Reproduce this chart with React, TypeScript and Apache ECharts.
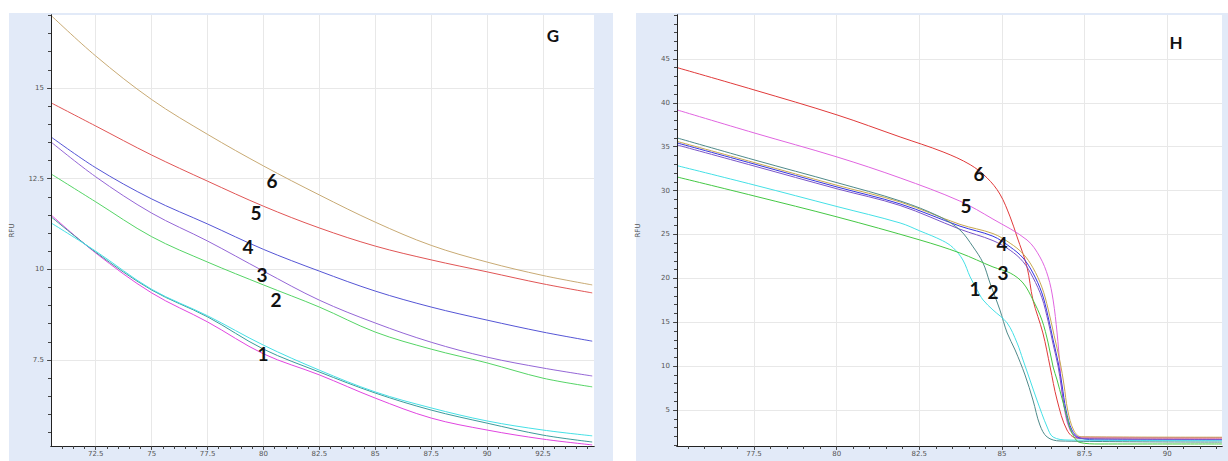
import React, { useEffect, useRef } from 'react';
import * as echarts from 'echarts';

// ---------- Panel G (left) ----------
const leftTemps = [70.5, 72.5, 75, 77.5, 80, 82.5, 85, 87.5, 90, 92.5, 94.7];
const g6Tan = [17.0, 15.88, 14.68, 13.72, 12.85, 12.05, 11.3, 10.66, 10.2, 9.83, 9.57];
const g5Red = [14.59, 13.95, 13.15, 12.43, 11.74, 11.14, 10.64, 10.26, 9.93, 9.6, 9.35];
const g4Blue = [13.65, 12.8, 11.94, 11.25, 10.55, 9.95, 9.4, 8.96, 8.6, 8.27, 8.02];
const g3Purple = [13.51, 12.55, 11.55, 10.78, 9.95, 9.15, 8.52, 7.99, 7.58, 7.28, 7.06];
const g2Green = [12.63, 11.86, 10.9, 10.2, 9.57, 8.96, 8.27, 7.8, 7.42, 7.0, 6.76];
const g1Magenta = [11.5, 10.45, 9.35, 8.55, 7.67, 7.09, 6.45, 5.9, 5.57, 5.32, 5.16];
const g1Teal = [11.45, 10.47, 9.43, 8.69, 7.8, 7.17, 6.59, 6.12, 5.76, 5.43, 5.24];
const g1Cyan = [11.28, 10.5, 9.45, 8.72, 7.91, 7.22, 6.62, 6.18, 5.82, 5.57, 5.41];

const leftXTicks = [72.5, 75, 77.5, 80, 82.5, 85, 87.5, 90, 92.5];
const leftYTicks = [7.5, 10, 12.5, 15];

// ---------- Panel H (right) ----------
const h6Red = [[75.17, 44.01], [77.5, 41.47], [80.01, 38.62], [81.92, 36.11], [83.22, 34.4], [84.04, 32.95], [84.55, 31.45], [84.94, 29.6], [85.25, 27.0], [85.46, 24.72], [85.76, 21.3], [85.94, 17.54], [86.24, 13.78], [86.46, 9.9], [86.67, 6.14], [86.97, 2.72], [87.27, 1.81], [91.66, 1.81]];
const h5Magenta = [[75.17, 39.19], [77.5, 36.57], [80.01, 33.83], [81.92, 31.44], [83.73, 28.8], [84.73, 26.75], [85.76, 24.37], [86.15, 22.44], [86.4, 20.16], [86.55, 17.54], [86.67, 13.78], [86.76, 9.9], [86.85, 6.14], [87.06, 2.72], [87.36, 1.92], [91.66, 1.85]];
const h4Tan = [[75.17, 35.6], [77.5, 33.2], [80.01, 30.6], [81.92, 28.7], [83.73, 26.15], [84.73, 25.1], [85.25, 24.0], [85.64, 22.8], [85.94, 21.2], [86.21, 19.0], [86.4, 16.5], [86.58, 13.5], [86.76, 10.5], [86.88, 7.85], [86.99, 5.0], [87.17, 2.72], [87.4, 1.95], [91.66, 1.9]];
const h4Blue = [[75.17, 35.43], [77.5, 33.03], [80.01, 30.41], [81.92, 28.48], [83.73, 25.95], [84.73, 24.8], [85.25, 23.58], [85.64, 22.32], [85.94, 20.61], [86.21, 18.33], [86.4, 15.6], [86.55, 12.98], [86.7, 10.47], [86.82, 7.85], [86.94, 5.0], [87.12, 2.72], [87.36, 1.81], [87.97, 1.6], [91.66, 1.6]];
const h4Purple = [[75.17, 35.2], [77.5, 32.8], [80.01, 30.2], [81.92, 28.3], [83.73, 25.6], [84.73, 24.3], [85.25, 23.2], [85.64, 21.9], [85.94, 20.1], [86.21, 17.8], [86.4, 15.1], [86.55, 12.5], [86.7, 10.0], [86.8, 7.6], [86.92, 4.8], [87.1, 2.6], [87.36, 1.75], [91.66, 1.65]];
const h2Gray = [[75.17, 36.0], [77.5, 33.5], [80.01, 30.9], [81.92, 28.82], [83.13, 27.0], [83.73, 25.51], [84.13, 23.58], [84.43, 21.75], [84.64, 19.47], [84.94, 16.4], [85.16, 13.78], [85.4, 11.84], [85.7, 8.99], [85.94, 6.14], [86.15, 3.29], [86.37, 1.92], [86.76, 1.47], [91.66, 1.35]];
const h1Cyan = [[75.17, 32.84], [77.5, 30.64], [80.01, 28.18], [81.92, 26.31], [82.52, 25.4], [83.2, 24.3], [83.52, 23.5], [83.82, 22.09], [84.04, 20.16], [84.25, 18.68], [84.43, 17.54], [84.73, 16.4], [85.16, 14.91], [85.46, 12.64], [85.64, 10.7], [85.85, 8.42], [86.06, 6.14], [86.37, 3.06], [86.55, 1.92], [87.0, 1.58], [91.66, 1.5]];
const h3Green = [[75.17, 31.55], [77.5, 29.39], [80.01, 27.0], [82.52, 24.37], [83.73, 22.89], [84.73, 21.3], [85.25, 20.61], [85.64, 19.47], [85.94, 17.54], [86.21, 15.26], [86.4, 12.64], [86.55, 9.9], [86.67, 8.42], [86.97, 4.2], [87.12, 2.38], [87.36, 1.3], [87.97, 1.13], [91.66, 1.13]];

const rightXTicks = [77.5, 80, 82.5, 85, 87.5, 90];
const rightYTicks = [5, 10, 15, 20, 25, 30, 35, 40, 45];

const leftLabels = [
  { t: '6', x: 272, y: 180 }, { t: '5', x: 256, y: 212 }, { t: '4', x: 248, y: 246 },
  { t: '3', x: 262, y: 274 }, { t: '2', x: 276, y: 299 }, { t: '1', x: 263, y: 353 },
];
const rightLabels = [
  { t: '6', x: 979, y: 173 }, { t: '5', x: 966, y: 205 }, { t: '4', x: 1002, y: 243 },
  { t: '3', x: 1003, y: 272 }, { t: '1', x: 975, y: 288 }, { t: '2', x: 993, y: 291 },
];

function steps(a: number, b: number, s: number) {
  const out: number[] = [];
  for (let v = a; v <= b + 1e-9; v += s) out.push(Math.round(v * 100) / 100);
  return out;
}

const PANEL_BG = '#e2eaf8';
const GRID_LINE = '#e8e8e8';
const AXIS_COLOR = '#222';
const LABEL_COLOR = '#555';

function mainAxis(grid: number, min: number, max: number, ticks: number[], isY: boolean, name?: string) {
  return {
    type: 'value', gridIndex: grid, min, max,
    position: isY ? 'left' : 'bottom',
    name: name || '',
    nameLocation: 'middle', nameRotate: 90, nameGap: 36,
    nameTextStyle: { fontSize: 7, color: LABEL_COLOR, fontFamily: 'DejaVu Sans' },
    axisLine: { show: true, onZero: false, lineStyle: { color: AXIS_COLOR, width: 1 } },
    axisTick: { show: true, customValues: ticks, length: 4, lineStyle: { color: '#555' } },
    axisLabel: { show: true, customValues: ticks, fontSize: 7, color: LABEL_COLOR, margin: isY ? 7 : 4, fontFamily: 'DejaVu Sans' },
    splitLine: { show: true, lineStyle: { color: GRID_LINE, width: 1 } },
    z: 3,
  };
}
function minorAxis(grid: number, min: number, max: number, ticks: number[], isY: boolean) {
  return {
    type: 'value', gridIndex: grid, min, max,
    position: isY ? 'left' : 'bottom',
    offset: 0,
    axisLine: { show: true, onZero: false, lineStyle: { color: AXIS_COLOR, width: 1 } },
    axisTick: { show: true, customValues: ticks, length: 3, inside: false, lineStyle: { color: '#444', width: 1 } },
    axisLabel: { show: false },
    splitLine: { show: false },
    z: 4,
  };
}

function lineSeries(xi: number, data: number[][], color: string, smooth = 0.35) {
  return {
    type: 'line', xAxisIndex: xi, yAxisIndex: xi, data, showSymbol: false, symbol: 'none',
    smooth, lineStyle: { color, width: 1 }, silent: true,
  };
}

export default function App() {
  const ref = useRef<HTMLDivElement>(null);
  useEffect(() => {
    const chart = echarts.init(ref.current!, null, { renderer: 'svg' });
    const L = (arr: number[]) => leftTemps.map((t, i) => [t, arr[i]]);
    const textEl = (t: string, x: number, y: number, size: number) => ({
      type: 'text', x, y, z: 100,
      style: { text: t, font: `bold ${size}px Lato`, fill: '#111', textAlign: 'center', textVerticalAlign: 'middle' },
    });
    const option: any = {
      animation: false,
      backgroundColor: '#ffffff',
      grid: [
        { left: 51, top: 15, width: 543, height: 431, show: true, backgroundColor: '#fff', borderWidth: 0 },
        { left: 677, top: 15, width: 545, height: 431, show: true, backgroundColor: '#fff', borderWidth: 0 },
      ],
      xAxis: [
        mainAxis(0, 70.5, 94.78, leftXTicks, false),
        minorAxis(0, 70.5, 94.78, steps(71, 94.5, 0.5), false),
        mainAxis(1, 75.17, 91.66, rightXTicks, false),
        minorAxis(1, 75.17, 91.66, steps(75.5, 91.5, 0.5), false),
      ],
      yAxis: [
        mainAxis(0, 5.13, 17.01, leftYTicks, true, 'RFU'),
        minorAxis(0, 5.13, 17.01, steps(5.5, 17, 0.5), true),
        mainAxis(1, 0.9, 50.0, rightYTicks, true, 'RFU'),
        minorAxis(1, 0.9, 50.0, steps(1, 50, 1), true),
      ],
      graphic: [
        { type: 'rect', z: -10, shape: { x: 9, y: 13, width: 604, height: 448 }, style: { fill: PANEL_BG } },
        { type: 'rect', z: -10, shape: { x: 636, y: 13, width: 592, height: 448 }, style: { fill: PANEL_BG } },
        textEl('G', 553, 35, 17),
        textEl('H', 1176, 42, 17),
        ...leftLabels.map((l) => textEl(l.t, l.x, l.y, 19)),
        ...rightLabels.map((l) => textEl(l.t, l.x, l.y, 19)),
      ],
      series: [
        lineSeries(0, L(g6Tan), '#c8aa74'),
        lineSeries(0, L(g5Red), '#e05555'),
        lineSeries(0, L(g4Blue), '#5555d5'),
        lineSeries(0, L(g3Purple), '#9466d6'),
        lineSeries(0, L(g2Green), '#55d466'),
        lineSeries(0, L(g1Magenta), '#e045e0'),
        lineSeries(0, L(g1Teal), '#3c9a9a'),
        lineSeries(0, L(g1Cyan), '#45e0e6'),
        lineSeries(2, h6Red, '#e03a3a'),
        lineSeries(2, h5Magenta, '#e065e0'),
        lineSeries(2, h4Tan, '#c8a850'),
        lineSeries(2, h4Blue, '#3535e0'),
        lineSeries(2, h4Purple, '#7a55c8'),
        lineSeries(2, h2Gray, '#4f8a8a'),
        lineSeries(2, h1Cyan, '#45e0e6'),
        lineSeries(2, h3Green, '#45c845'),
      ],
    };
    chart.setOption(option);
    return () => chart.dispose();
  }, []);
  return <div ref={ref} style={{ position: 'absolute', left: 0, top: 0, width: 1228, height: 461 }} />;
}
